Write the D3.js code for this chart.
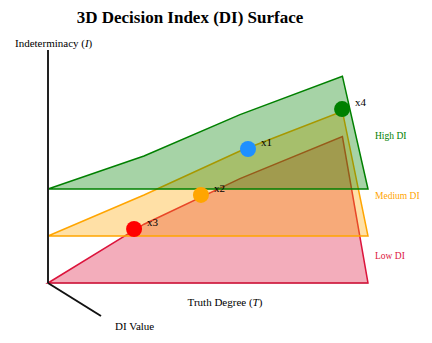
<!DOCTYPE html>
<html lang="en">
<head>
<meta charset="utf-8">
<title>3D Decision Index (DI) Surface</title>
<script src="https://d3js.org/d3.v7.min.js"></script>
<style>
  body { margin: 0; background: #fff; }
  text { font-family: "Times New Roman", "Liberation Serif", serif; }
</style>
</head>
<body>
<div id="chart"></div>
<script>
// data
var layers = ["Low DI", "Medium DI", "High DI"];
var truthSamples = [0, 0.3, 0.6, 0.92];
var lowI = [0, 0.245, 0.435, 0.61];
var mediumI = [0, 0.171, 0.354, 0.52];
var highI = [0, 0.1375, 0.31, 0.47];

var pointNames = ["x1", "x2", "x3", "x4"];
var pointT = [0.625, 0.478, 0.269, 0.919];
var pointI = [0.3625, 0.367, 0.225, 0.529];
var pointLayer = [1, 0, 0, 1];

// styles
var layerColors = ["crimson", "orange", "green"];
var pointColors = ["#1E90FF", "orange", "red", "green"];

var width = 432, height = 343;
var originX = 48, originY = 283, layerStep = 47;

var svg = d3.select("#chart").append("svg")
  .attr("width", width)
  .attr("height", height);

var x = d3.scaleLinear().domain([0, 1]).range([originX, 368]);
var y = d3.scaleLinear().domain([0, 1]).range([originY, originY - 240]);

// title
svg.append("text")
  .attr("x", 190).attr("y", 23)
  .attr("text-anchor", "middle")
  .style("font-size", "17px").style("font-weight", "bold")
  .text("3D Decision Index (DI) Surface");

// axes
svg.append("line")
  .attr("x1", originX).attr("y1", originY).attr("x2", 368).attr("y2", originY)
  .attr("stroke", "#bbb").attr("stroke-width", 2);

var layerData = [lowI, mediumI, highI];
var line = d3.line().x(function(d) { return x(d[0]); }).y(function(d) { return y(d[1]); });

layerData.forEach(function(vals, i) {
  var pts = truthSamples.map(function(t, j) { return [t, vals[j]]; });
  pts.push([1, 0]);
  var g = svg.append("g").attr("transform", "translate(0," + (-layerStep * i) + ")");
  g.append("path")
    .attr("d", line(pts) + "Z")
    .attr("fill", layerColors[i])
    .attr("fill-opacity", 0.35)
    .attr("stroke", layerColors[i])
    .attr("stroke-width", 1.5);
  svg.append("text")
    .attr("x", 375)
    .attr("y", 259 - 60 * i)
    .style("font-size", "9.5px")
    .attr("fill", layerColors[i])
    .text(layers[i]);
});

svg.append("line")
  .attr("x1", originX).attr("y1", 50).attr("x2", originX).attr("y2", originY)
  .attr("stroke", "#222").attr("stroke-width", 2);
svg.append("line")
  .attr("x1", originX).attr("y1", originY).attr("x2", 101).attr("y2", 316)
  .attr("stroke", "#111").attr("stroke-width", 2);

// points
pointNames.forEach(function(name, i) {
  var cx = x(pointT[i]), cy = y(pointI[i]) - layerStep * pointLayer[i];
  svg.append("circle")
    .attr("cx", cx).attr("cy", cy).attr("r", 8)
    .attr("fill", pointColors[i]);
  svg.append("text")
    .attr("x", cx + 13).attr("y", cy - 3)
    .style("font-size", "11px")
    .text(name);
});

// axis labels
var lab1 = svg.append("text").attr("x", 15).attr("y", 47).style("font-size", "11px");
lab1.append("tspan").text("Indeterminacy (");
lab1.append("tspan").style("font-style", "italic").text("I");
lab1.append("tspan").text(")");

var lab2 = svg.append("text").attr("x", 225).attr("y", 306).attr("text-anchor", "middle").style("font-size", "11px");
lab2.append("tspan").text("Truth Degree (");
lab2.append("tspan").style("font-style", "italic").text("T");
lab2.append("tspan").text(")");

svg.append("text").attr("x", 115).attr("y", 330).style("font-size", "11px").text("DI Value");
</script>
</body>
</html>
